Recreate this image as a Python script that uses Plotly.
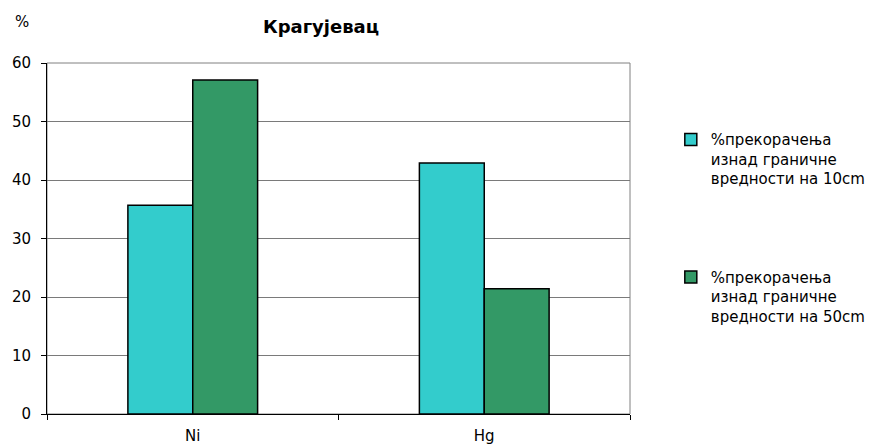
import plotly.graph_objects as go

categories = ["Ni", "Hg"]
series_10cm = [35.7, 42.9]
series_50cm = [57.1, 21.4]
name_10 = "%прекорачења<br>изнад граничне<br>вредности на 10cm"
name_50 = "%прекорачења<br>изнад граничне<br>вредности на 50cm"
y_ticks = [0, 10, 20, 30, 40, 50, 60]

FONT = "DejaVu Sans, Arial, sans-serif"

# page body has an 8px default margin, so the figure is sized/offset to compensate
fig = go.Figure()
fig.add_trace(go.Bar(x=categories, y=series_10cm, name=name_10, legendgroup="a",
                     marker=dict(color="#33CCCC", line=dict(color="black", width=1.5))))
fig.add_trace(go.Bar(x=categories, y=series_50cm, name=name_50, legendgroup="b",
                     marker=dict(color="#339966", line=dict(color="black", width=1.5))))

fig.update_layout(
    width=869, height=436,
    margin=dict(l=39, r=247, t=55, b=30, autoexpand=False),
    paper_bgcolor="white", plot_bgcolor="white",
    barmode="group", bargap=0.555, bargroupgap=0,
    font=dict(family=FONT, size=15, color="black"),
    title=dict(text="<b>Крагујевац</b>", x=313/869, xanchor="center", y=1-19/436, yanchor="middle",
               font=dict(size=18, family=FONT)),
    legend=dict(x=1.07, y=0.828, xanchor="left", yanchor="top", font=dict(size=15, family=FONT),
                traceorder="grouped", tracegroupgap=76, valign="top", bgcolor="rgba(0,0,0,0)",
                itemwidth=30),
    xaxis=dict(showline=True, linecolor="black", linewidth=1, ticks="outside", tickson="boundaries",
               ticklen=5, tickcolor="black", showgrid=False, tickfont=dict(size=15), automargin=False,
               ticklabelstandoff=8),
    yaxis=dict(range=[0, 60], tickvals=y_ticks, showline=True, linecolor="black", linewidth=1,
               ticks="outside", ticklen=5, tickcolor="black", showgrid=True, gridcolor="#7a7a7a",
               gridwidth=1, tickfont=dict(size=15), zeroline=False, automargin=False,
               ticklabelstandoff=7),
    annotations=[dict(text="%", xref="paper", yref="paper", x=-0.043, y=1.117,
                      xanchor="center", yanchor="middle", showarrow=False, font=dict(size=15))],
    shapes=[dict(type="rect", xref="paper", yref="paper", x0=0, x1=1, y0=0, y1=1,
                 line=dict(color="#808080", width=1), layer="below")],
)

fig.write_html("out.html")
